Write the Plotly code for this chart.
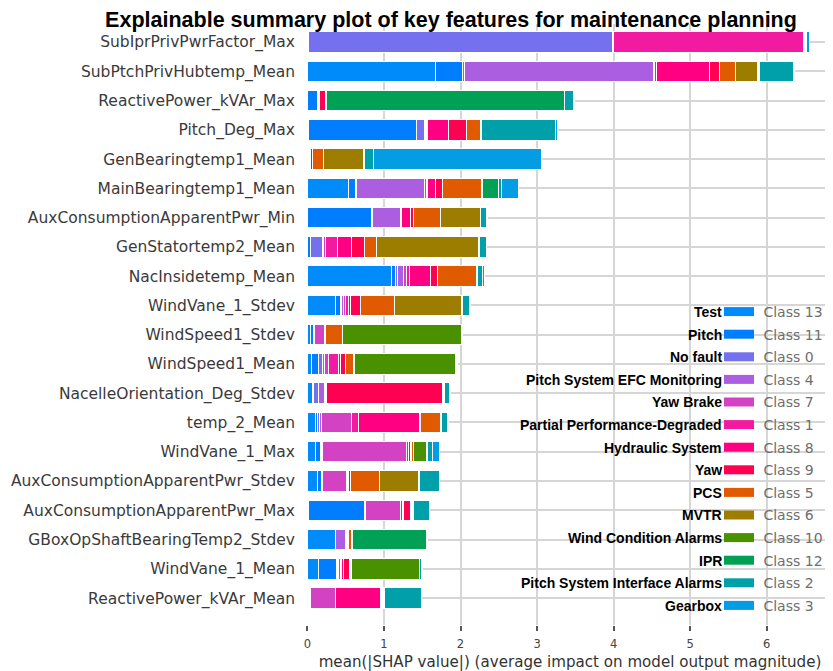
import plotly.graph_objects as go

# ---------------- data ----------------
features = [
    "SubIprPrivPwrFactor_Max", "SubPtchPrivHubtemp_Mean", "ReactivePower_kVAr_Max",
    "Pitch_Deg_Max", "GenBearingtemp1_Mean", "MainBearingtemp1_Mean",
    "AuxConsumptionApparentPwr_Min", "GenStatortemp2_Mean", "NacInsidetemp_Mean",
    "WindVane_1_Stdev", "WindSpeed1_Stdev", "WindSpeed1_Mean",
    "NacelleOrientation_Deg_Stdev", "temp_2_Mean", "WindVane_1_Max",
    "AuxConsumptionApparentPwr_Stdev", "AuxConsumptionApparentPwr_Max",
    "GBoxOpShaftBearingTemp2_Stdev", "WindVane_1_Mean", "ReactivePower_kVAr_Mean",
]

class_names = ["Class 13", "Class 11", "Class 0", "Class 4", "Class 7", "Class 1", "Class 8",
               "Class 9", "Class 5", "Class 6", "Class 10", "Class 12", "Class 2", "Class 3"]
fault_names = ["Test", "Pitch", "No fault", "Pitch System EFC Monitoring", "Yaw Brake",
               "Partial Performance-Degraded", "Hydraulic System", "Yaw", "PCS", "MVTR",
               "Wind Condition Alarms", "IPR", "Pitch System Interface Alarms", "Gearbox"]
class_colors = ["#008bfb", "#007eff", "#7570ee", "#ac5ee0", "#d242c2", "#f11aa0", "#ff0082",
                "#ff0052", "#e05a00", "#9c7d00", "#4a9100", "#00a055", "#00a0aa", "#049ce2"]

# mean(|SHAP|) per feature (top -> bottom) for each class
class_13 = [0.01, 1.67, 0.005, 0.01, 0.005, 0.53, 0.005, 0.005, 1.10, 0.37,
            0.04, 0.05, 0.07, 0.10, 0.10, 0.13, 0.02, 0.36, 0.14, 0.02]
class_11 = [0.01, 0.36, 0.12, 1.41, 0.005, 0.10, 0.83, 0.04, 0.05, 0.06,
            0.04, 0.09, 0.01, 0.03, 0.07, 0.05, 0.73, 0.005, 0.24, 0.005]
class_0 = [3.96, 0.02, 0.005, 0.11, 0.005, 0.01, 0.01, 0.155, 0.02, 0.02,
           0.005, 0.06, 0.06, 0.03, 0.01, 0.01, 0.005, 0.005, 0.01, 0.005]
class_4 = [0.01, 2.47, 0.005, 0.01, 0.005, 0.89, 0.37, 0.015, 0.09, 0.02,
           0.005, 0.02, 0.08, 0.02, 0.02, 0.01, 0.005, 0.13, 0.01, 0.01]
class_7 = [0.01, 0.02, 0.005, 0.02, 0.005, 0.02, 0.01, 0.015, 0.03, 0.03,
           0.13, 0.06, 0.01, 0.40, 1.09, 0.31, 0.45, 0.01, 0.03, 0.32]
class_1 = [2.48, 0.02, 0.01, 0.01, 0.005, 0.02, 0.01, 0.16, 0.04, 0.03,
           0.005, 0.12, 0.01, 0.09, 0.03, 0.01, 0.03, 0.01, 0.02, 0.01]
class_8 = [0.005, 0.69, 0.01, 0.27, 0.005, 0.10, 0.11, 0.18, 0.28, 0.03,
           0.005, 0.03, 0.01, 0.79, 0.03, 0.02, 0.02, 0.01, 0.02, 0.59]
class_9 = [0.005, 0.13, 0.07, 0.24, 0.03, 0.09, 0.04, 0.17, 0.09, 0.13,
           0.005, 0.07, 1.52, 0.02, 0.01, 0.02, 0.09, 0.01, 0.08, 0.01]
class_5 = [0.005, 0.21, 0.005, 0.18, 0.15, 0.51, 0.35, 0.16, 0.51, 0.45,
           0.22, 0.10, 0.005, 0.26, 0.02, 0.38, 0.01, 0.03, 0.01, 0.01]
class_6 = [0.005, 0.29, 0.005, 0.01, 0.52, 0.01, 0.52, 1.34, 0.005, 0.87,
           0.005, 0.01, 0.005, 0.005, 0.01, 0.51, 0.01, 0.01, 0.01, 0.01]
class_10 = [0.005, 0.01, 0.01, 0.005, 0.005, 0.01, 0.005, 0.005, 0.005, 0.005,
            1.55, 1.33, 0.005, 0.005, 0.17, 0.01, 0.01, 0.01, 0.89, 0.01]
class_12 = [0.005, 0.01, 3.11, 0.005, 0.005, 0.20, 0.005, 0.005, 0.005, 0.005,
            0.005, 0.005, 0.005, 0.005, 0.01, 0.01, 0.01, 0.97, 0.005, 0.005]
class_2 = [0.01, 0.45, 0.12, 0.96, 0.12, 0.05, 0.08, 0.09, 0.06, 0.10,
           0.005, 0.005, 0.07, 0.08, 0.07, 0.25, 0.20, 0.005, 0.03, 0.48]
class_3 = [0.04, 0.01, 0.005, 0.03, 2.19, 0.22, 0.005, 0.005, 0.03, 0.005,
           0.005, 0.005, 0.005, 0.005, 0.09, 0.005, 0.005, 0.005, 0.005, 0.005]

class_values = [class_13, class_11, class_0, class_4, class_7, class_1, class_8,
                class_9, class_5, class_6, class_10, class_12, class_2, class_3]

x_ticks = [0, 1, 2, 3, 4, 5, 6]

# ---------------- figure ----------------
# The page body adds an 8px margin, so the figure is sized 8px smaller and all
# screen positions below are given in window pixels minus that offset.
OFF = 8
WIN_W, WIN_H = 833, 671
W, H = WIN_W - OFF, WIN_H - OFF
PLOT_L, PLOT_T, PLOT_B = 307, 24, 625          # plot area in window pixels
ML, MR, MT, MB = PLOT_L - OFF, 0, PLOT_T - OFF, WIN_H - PLOT_B
PW, PH = W - ML - MR, H - MT - MB


def paper_x(win_px):
    return (win_px - OFF - ML) / PW


def paper_y(win_px):
    return (PLOT_B - win_px) / PH


fig = go.Figure()
for name, color, vals in zip(class_names, class_colors, class_values):
    fig.add_trace(go.Bar(
        y=features, x=vals, orientation="h", width=0.7, name=name,
        marker=dict(color=color, line=dict(color="white", width=1)),
        showlegend=False, hoverinfo="x+name",
    ))
for name, color in zip(class_names, class_colors):
    fig.add_trace(go.Scatter(
        x=[None], y=[None], mode="lines", name=" " + name, legendgroup=name,
        line=dict(color=color, width=9), showlegend=True,
    ))

# bold fault-type labels to the left of the legend swatches
row0_px, row_step = 312.0, 22.6
for i, label in enumerate(fault_names):
    ypx = row0_px + i * row_step
    fig.add_annotation(
        text=label, xref="paper", yref="paper",
        x=paper_x(724), y=paper_y(ypx),
        xanchor="right", yanchor="middle", showarrow=False,
        font=dict(family="Liberation Sans", size=14, color="black", weight="bold"),
    )

fig.update_layout(
    width=W, height=H,
    margin=dict(l=ML, r=MR, t=MT, b=MB, autoexpand=False),
    barmode="stack",
    plot_bgcolor="white", paper_bgcolor="white",
    title=dict(
        text="Explainable summary plot of key features for maintenance planning",
        xref="container", yref="container", x=(451 - OFF) / W, y=1 - (19 - OFF) / H,
        xanchor="center", yanchor="middle",
        font=dict(family="Liberation Sans", size=21.5, color="black", weight="bold"),
    ),
    legend=dict(
        xref="paper", yref="paper", x=paper_x(719), y=paper_y(296),
        xanchor="left", yanchor="top", bgcolor="rgba(0,0,0,0)",
        traceorder="grouped", tracegroupgap=1.4, itemwidth=30,
        font=dict(family="DejaVu Sans", size=14, color="#6e6e6e"),
    ),
    xaxis=dict(
        range=[-0.006, PW / 76.6], tickvals=x_ticks, automargin=False,
        showgrid=True, gridcolor="#d6d6d6", gridwidth=1.5, zeroline=False,
        ticks="outside", ticklen=5, tickwidth=1.5, tickcolor="#555555",
        ticklabelstandoff=3,
        tickfont=dict(family="DejaVu Sans", size=11.5, color="#444444"),
        title=dict(text="mean(|SHAP value|) (average impact on model output magnitude)",
                   font=dict(family="DejaVu Sans", size=15.1, color="#333333"), standoff=7),
        showline=False,
    ),
    yaxis=dict(
        type="category", categoryorder="array", categoryarray=features,
        range=[19.92, -0.615], automargin=False,
        showgrid=True, gridcolor="#d6d6d6", gridwidth=1.5, zeroline=False,
        ticks="", ticklabelstandoff=11,
        tickfont=dict(family="DejaVu Sans", size=15.5, color="#3a3a3a"),
        showline=False,
    ),
)

fig.write_html("out.html")
